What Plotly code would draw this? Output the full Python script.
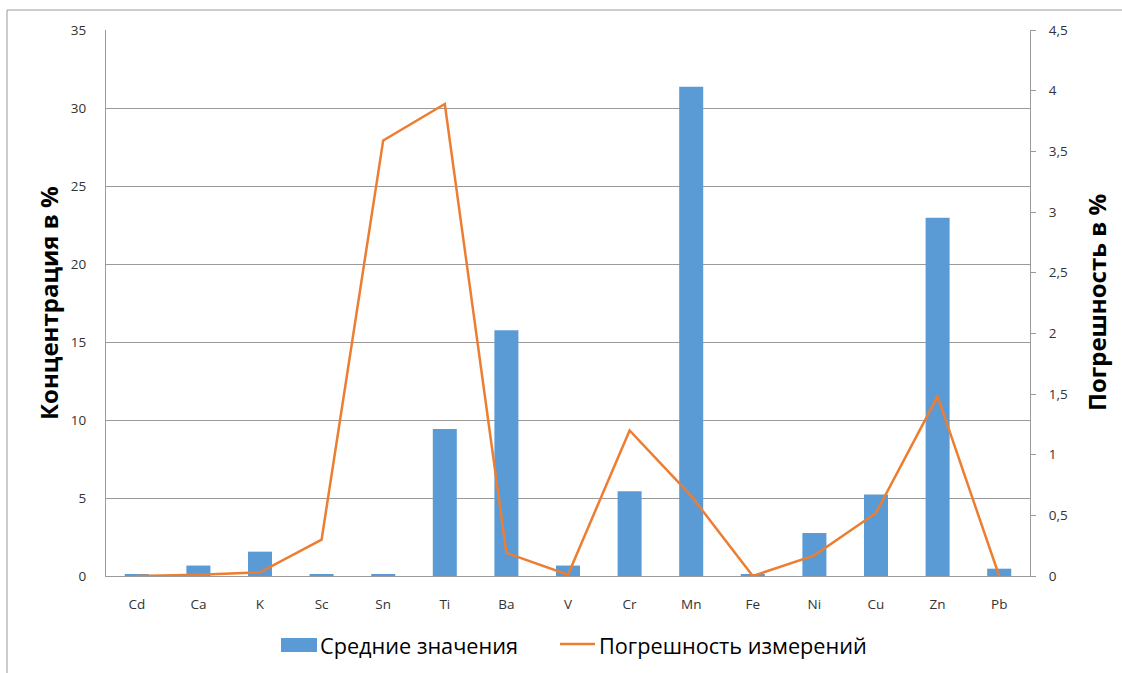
import plotly.graph_objects as go

# Elements (category axis)
elements = ["Cd", "Ca", "K", "Sc", "Sn", "Ti", "Ba", "V", "Cr", "Mn", "Fe", "Ni", "Cu", "Zn", "Pb"]

# Mean concentration, % (left axis, bars)
mean_values = [0.1, 0.67, 1.56, 0.1, 0.1, 9.43, 15.76, 0.67, 5.43, 31.36, 0.1, 2.76, 5.22, 22.96, 0.47]

# Measurement error, % (right axis, line)
error_values = [0.0, 0.01, 0.03, 0.30, 3.59, 3.89, 0.19, 0.01, 1.20, 0.66, 0.0, 0.17, 0.52, 1.48, 0.0]

bar_name = "Средние значения"
line_name = "Погрешность измерений"
left_title = "Концентрация в %"
right_title = "Погрешность в %"

BLUE = "#5B9BD5"
ORANGE = "#ED7D31"
GRID = "#9A9A9A"
TEXT = "#333333"
FONT = "Open Sans, Liberation Sans, sans-serif"

W, H = 1122, 673
PL, PR, PT, PB = 106, 1030, 30, 576  # plot area in pixels


def px_x(x):
    return (x - PL) / (PR - PL)


def px_y(y):
    return (PB - y) / (PB - PT)


fig = go.Figure()
fig.add_trace(go.Bar(
    x=elements, y=mean_values, name=bar_name,
    marker=dict(color=BLUE, line=dict(width=0)),
    yaxis="y", showlegend=False,
))
fig.add_trace(go.Scatter(
    x=elements, y=error_values, name=line_name, mode="lines",
    line=dict(color=ORANGE, width=2.5),
    yaxis="y2", showlegend=False,
))

shapes = [
    # outer chart frame
    dict(type="rect", xref="paper", yref="paper",
         x0=px_x(7), y0=px_y(700), x1=px_x(1140), y1=px_y(10),
         line=dict(color=GRID, width=1), fillcolor="rgba(0,0,0,0)", layer="below"),
    # legend keys
    dict(type="rect", xref="paper", yref="paper",
         x0=px_x(281), y0=px_y(652), x1=px_x(317), y1=px_y(638),
         line=dict(width=0), fillcolor=BLUE),
    dict(type="line", xref="paper", yref="paper",
         x0=px_x(560), y0=px_y(644), x1=px_x(595), y1=px_y(644),
         line=dict(color=ORANGE, width=2.5)),
]

annotations = [
    dict(text=bar_name, xref="paper", yref="paper", x=px_x(318), y=px_y(645),
         xanchor="left", yanchor="middle", showarrow=False,
         font=dict(family=FONT, size=21.7, color="#000000")),
    dict(text=line_name, xref="paper", yref="paper", x=px_x(597), y=px_y(645),
         xanchor="left", yanchor="middle", showarrow=False,
         font=dict(family=FONT, size=21.7, color="#000000")),
    dict(text=left_title, xref="paper", yref="paper", x=px_x(48), y=0.5,
         xanchor="center", yanchor="middle", textangle=-90, showarrow=False,
         font=dict(family=FONT, size=24, color="#000000", weight="bold")),
    dict(text=right_title, xref="paper", yref="paper", x=px_x(1096), y=0.5,
         xanchor="center", yanchor="middle", textangle=-90, showarrow=False,
         font=dict(family=FONT, size=24, color="#000000", weight="bold")),
]

fig.update_layout(
    width=W, height=H,
    margin=dict(l=PL, r=W - PR, t=PT, b=H - PB, pad=0),
    paper_bgcolor="white", plot_bgcolor="white",
    separators=", ",
    bargap=0.61,
    font=dict(family=FONT, size=13, color=TEXT),
    xaxis=dict(
        type="category", range=[-0.5, len(elements) - 0.5],
        showgrid=False, showline=True, linecolor=GRID, linewidth=1,
        ticks="", tickfont=dict(size=13.5, color=TEXT), ticklabelstandoff=16,
        zeroline=False, fixedrange=True,
    ),
    yaxis=dict(
        range=[0, 35], dtick=5, tick0=0,
        showgrid=True, gridcolor=GRID, gridwidth=1,
        showline=True, linecolor=GRID, linewidth=1,
        ticks="", ticklabelstandoff=16, zeroline=False,
        tickfont=dict(size=13.5, color=TEXT),
    ),
    yaxis2=dict(
        range=[0, 4.5], dtick=0.5, tick0=0,
        overlaying="y", side="right",
        showgrid=False, showline=True, linecolor=GRID, linewidth=1,
        ticks="outside", ticklen=5, tickcolor=GRID, ticklabelstandoff=10,
        zeroline=False, tickfont=dict(size=13.5, color=TEXT),
    ),
    shapes=shapes,
    annotations=annotations,
)

fig.write_html("out.html")
